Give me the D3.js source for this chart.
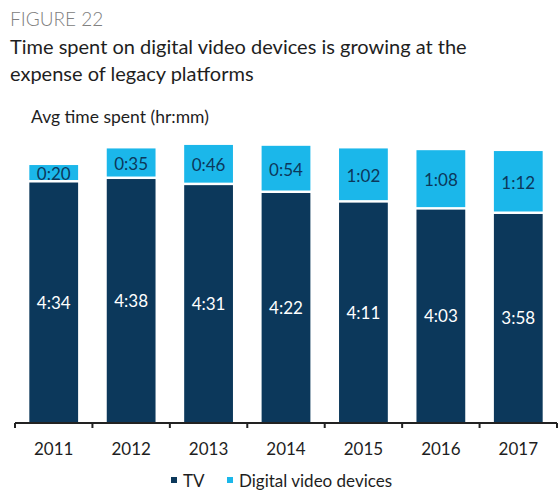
<!DOCTYPE html>
<html>
<head>
<meta charset="utf-8">
<script src="https://cdn.jsdelivr.net/npm/d3@7"></script>
<style>
  html, body { margin: 0; padding: 0; background: #fff; }
  svg { display: block; font-family: Lato, "Open Sans", sans-serif; }
</style>
</head>
<body>
<svg id="chart" width="558" height="493"></svg>
<script>
// Average daily time spent, hr:mm
const years = ["2011", "2012", "2013", "2014", "2015", "2016", "2017"];
const tvTime = ["4:34", "4:38", "4:31", "4:22", "4:11", "4:03", "3:58"];
const digitalTime = ["0:20", "0:35", "0:46", "0:54", "1:02", "1:08", "1:12"];
const seriesNames = ["TV", "Digital video devices"];

const navy = "#0c385b";
const cyan = "#1bb7ea";

const toMinutes = s => { const [h, m] = s.split(":").map(Number); return h * 60 + m; };

const svg = d3.select("#chart");

// Header texts
svg.append("text").attr("x", 10).attr("y", 26)
  .attr("font-size", 19).attr("fill", "#808080").attr("font-weight", 300)
  .text("FIGURE 22");
svg.append("text").attr("x", 10).attr("y", 54)
  .attr("font-size", 20).attr("fill", "#1e1e1e")
  .text("Time spent on digital video devices is growing at the");
svg.append("text").attr("x", 10).attr("y", 81)
  .attr("font-size", 20).attr("fill", "#1e1e1e")
  .text("expense of legacy platforms");
svg.append("text").attr("x", 31).attr("y", 123)
  .attr("font-size", 17.5).attr("fill", "#1e1e1e")
  .text("Avg time spent (hr:mm)");

const x = d3.scaleBand().domain(years).range([15, 557]).paddingInner(0.37).paddingOuter(0.185);
const y = d3.scaleLinear().domain([0, 350]).range([422, 422 - 350 * 0.874]);

const rows = years.map((yr, i) => ({
  year: yr,
  tvLabel: tvTime[i],
  digLabel: digitalTime[i],
  tv: toMinutes(tvTime[i]),
  dig: toMinutes(digitalTime[i])
}));

const gap = 2.5;

const g = svg.append("g");
// TV segments
g.selectAll("rect.tv").data(rows).join("rect").attr("class", "tv")
  .attr("x", d => x(d.year)).attr("width", x.bandwidth())
  .attr("y", d => y(d.tv)).attr("height", d => y(0) - y(d.tv))
  .attr("fill", navy);
// Digital segments stacked above, separated by a thin white gap
g.selectAll("rect.dig").data(rows).join("rect").attr("class", "dig")
  .attr("x", d => x(d.year)).attr("width", x.bandwidth())
  .attr("y", d => y(d.tv + d.dig)).attr("height", d => y(d.tv) - y(d.tv + d.dig) - gap)
  .attr("fill", cyan);

// Value labels
g.selectAll("text.tvl").data(rows).join("text").attr("class", "tvl")
  .attr("x", d => x(d.year) + x.bandwidth() / 2)
  .attr("y", d => (y(0) + y(d.tv)) / 2)
  .attr("text-anchor", "middle").attr("dominant-baseline", "central")
  .attr("font-size", 17).attr("fill", "#fff")
  .text(d => d.tvLabel);
g.selectAll("text.dgl").data(rows).join("text").attr("class", "dgl")
  .attr("x", d => x(d.year) + x.bandwidth() / 2)
  .attr("y", d => (y(d.tv) - gap + y(d.tv + d.dig)) / 2 + 1)
  .attr("text-anchor", "middle").attr("dominant-baseline", "central")
  .attr("font-size", 17).attr("fill", navy)
  .text(d => d.digLabel);

// X axis: baseline with ticks at band boundaries
const axisG = svg.append("g").attr("transform", "translate(0,423)");
axisG.append("line").attr("x1", 15).attr("x2", 557).attr("y1", 0).attr("y2", 0)
  .attr("stroke", "#222").attr("stroke-width", 2);
const edges = years.map(yr => x(yr) - x.step() * x.paddingInner() / 2).concat([557]);
edges[0] = 15;
axisG.selectAll("line.tick").data(edges).join("line").attr("class", "tick")
  .attr("x1", d => d).attr("x2", d => d).attr("y1", 0).attr("y2", 5)
  .attr("stroke", "#222").attr("stroke-width", 2);
axisG.selectAll("text.yr").data(years).join("text").attr("class", "yr")
  .attr("x", d => x(d) + x.bandwidth() / 2).attr("y", 32)
  .attr("text-anchor", "middle").attr("font-size", 17).attr("fill", "#1e1e1e")
  .text(d => d);

// Legend
const legend = svg.append("g");
const legendItems = [
  { name: seriesNames[0], color: navy, x: 171 },
  { name: seriesNames[1], color: cyan, x: 227 }
];
legendItems.forEach(it => {
  legend.append("rect").attr("x", it.x).attr("y", 477).attr("width", 6).attr("height", 6).attr("fill", it.color);
  legend.append("text").attr("x", it.x + 12).attr("y", 487)
    .attr("font-size", 17).attr("fill", "#1e1e1e").text(it.name);
});
</script>
</body>
</html>
